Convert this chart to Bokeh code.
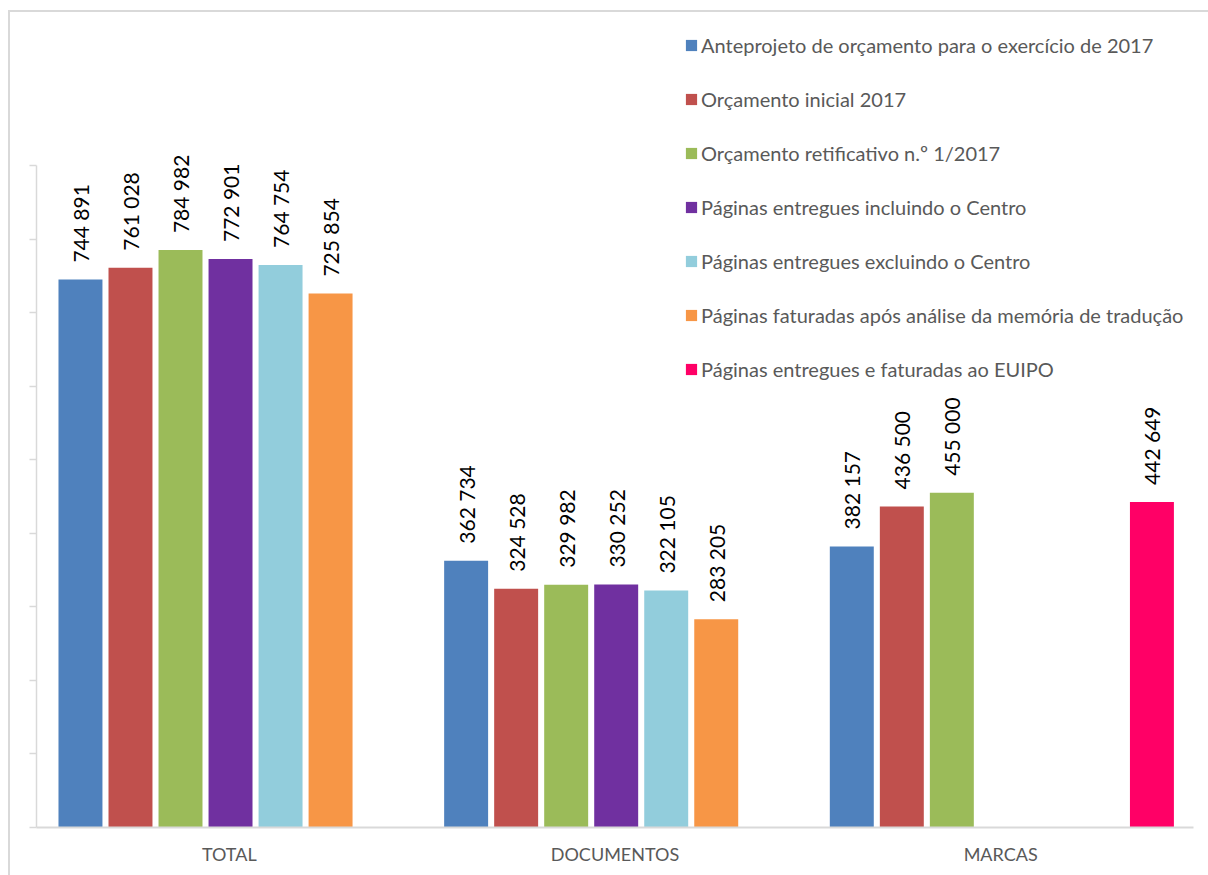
import math
from bokeh.plotting import figure
from bokeh.models import (Range1d, FixedTicker, LinearAxis, Legend, LegendItem)
from bokeh.core.properties import value
from bokeh.embed import file_html
from bokeh.resources import INLINE

# ---------------- data ----------------
categories = ["TOTAL", "DOCUMENTOS", "MARCAS"]

series_names = [
    "Anteprojeto de orçamento para o exercício de 2017",
    "Orçamento inicial 2017",
    "Orçamento retificativo n.º 1/2017",
    "Páginas entregues incluindo o Centro",
    "Páginas entregues excluindo o Centro",
    "Páginas faturadas após análise da memória de tradução",
    "Páginas entregues e faturadas ao EUIPO",
]
series_colors = ["#4F81BD", "#C0504D", "#9BBB59", "#7030A0", "#92CDDC", "#F79646", "#FF0066"]

anteprojeto = [744891, 362734, 382157]
orcamento_inicial = [761028, 324528, 436500]
orcamento_retificativo = [784982, 329982, 455000]
incluindo_centro = [772901, 330252, None]
excluindo_centro = [764754, 322105, None]
faturadas_memoria = [725854, 283205, None]
faturadas_euipo = [None, None, 442649]

series_values = [anteprojeto, orcamento_inicial, orcamento_retificativo,
                 incluindo_centro, excluindo_centro, faturadas_memoria, faturadas_euipo]

y_ticks = list(range(0, 900001, 100000))

# ---------------- layout constants ----------------
BAR_W = 0.114
STEP = 0.1297
FIRST = 0.114
FONT = "Lato"

p = figure(frame_width=1157, frame_height=815,
           min_border_left=26, min_border_right=15, min_border_top=0, min_border_bottom=48,
           x_range=Range1d(0, 3), y_range=Range1d(0, 1108000),
           x_axis_type=None, y_axis_type=None,
           output_backend="svg", toolbar_location=None)
p.outline_line_color = None
p.xgrid.grid_line_color = None
p.ygrid.grid_line_color = None
p.background_fill_color = "white"
p.border_fill_color = "white"
p.styles = {"margin-left": "8px", "margin-top": "10px", "margin-right": "-12px",
            "border-left": "2px solid #d9d9d9", "border-top": "2px solid #d9d9d9"}

# y axis (no labels, ticks outside, bounded to 0..900k)
yaxis = LinearAxis(ticker=FixedTicker(ticks=y_ticks), bounds=(0, 900000))
yaxis.axis_line_color = "#d9d9d9"
yaxis.axis_line_width = 1.5
yaxis.major_tick_line_color = "#d9d9d9"
yaxis.major_tick_line_width = 1.5
yaxis.major_tick_out = 7
yaxis.major_tick_in = 0
yaxis.minor_tick_line_color = None
yaxis.major_label_text_font_size = "0px"
yaxis.major_label_text_color = None
p.add_layout(yaxis, "left")

# x axis
xaxis = LinearAxis(ticker=FixedTicker(ticks=[i + 0.5 for i in range(len(categories))]))
xaxis.major_label_overrides = {i + 0.5: c for i, c in enumerate(categories)}
xaxis.axis_line_color = "#d9d9d9"
xaxis.axis_line_width = 2
xaxis.major_tick_line_color = None
xaxis.minor_tick_line_color = None
xaxis.major_tick_out = 0
xaxis.major_tick_in = 0
xaxis.major_label_standoff = 15
xaxis.major_label_text_font = FONT
xaxis.major_label_text_font_size = "18px"
xaxis.major_label_text_color = "#595959"
p.add_layout(xaxis, "below")

items = []
for j, (name, color, vals) in enumerate(zip(series_names, series_colors, series_values)):
    xs = [i + FIRST + j * STEP for i, v in enumerate(vals) if v is not None]
    ys = [v for v in vals if v is not None]
    r = p.vbar(x=xs, top=ys, width=BAR_W, fill_color=color, line_color=None)
    labels = [f"{v:,}".replace(",", " ") for v in ys]
    p.text(x=xs, y=ys, text=labels, angle=math.pi / 2,
           text_align="left", text_baseline="middle", y_offset=-17,
           text_font=value(FONT), text_font_size="21px", text_color="black")
    items.append(LegendItem(label=name, renderers=[r]))

legend = Legend(items=items, location=(648, 446), orientation="vertical",
                glyph_width=14, glyph_height=14, label_standoff=3,
                spacing=30, label_height=24, padding=0, margin=0,
                border_line_color=None, background_fill_alpha=0,
                label_text_font=FONT, label_text_font_size="20px",
                label_text_color="#595959")
p.add_layout(legend)

open("out.html", "w").write(file_html(p, INLINE))
